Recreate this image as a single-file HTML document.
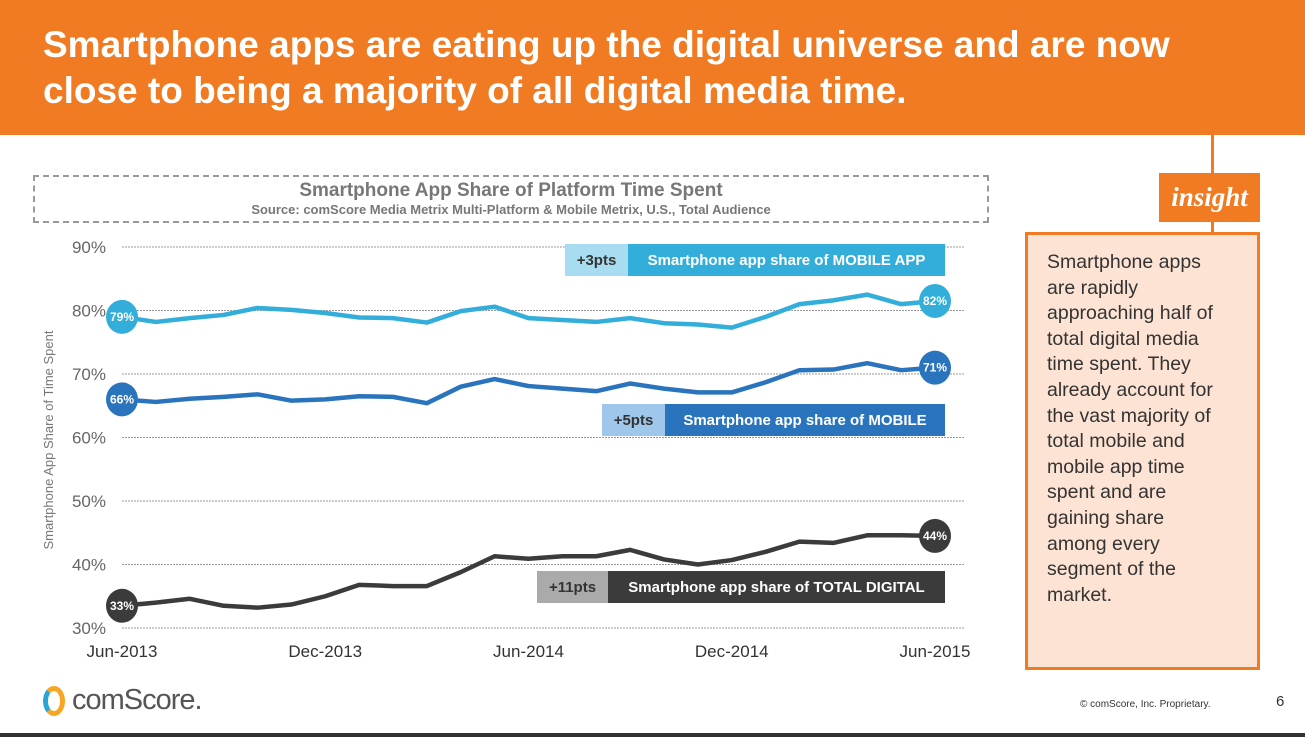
<!DOCTYPE html>
<html><head><meta charset="utf-8"><style>
body{margin:0;width:1305px;height:737px;position:relative;background:#fff;font-family:"Liberation Sans",Arial,sans-serif;overflow:hidden}
#hdr{position:absolute;left:0;top:0;width:1305px;height:135px;background:#F07B22}
#hdr h1{position:absolute;left:43px;top:22px;margin:0;color:#fff;font-size:37px;line-height:46px;font-weight:bold;white-space:nowrap}
#ins-box{position:absolute;left:1025px;top:232px;width:229px;height:432px;border:3px solid #F07B22;background:#FDE3D3}
#ins-text{position:absolute;left:19px;top:15px;font-size:19.5px;line-height:25.6px;color:#333}
</style></head><body>
<div id="hdr"><h1>Smartphone apps are eating up the digital universe and are now<br>close to being a majority of all digital media time.</h1></div>
<div style="position:absolute;left:1211px;top:135px;width:3px;height:98px;background:#F07B22"></div>
<div style="position:absolute;left:1159px;top:173px;width:101px;height:49px;background:#F07B22;color:#fff;font-style:italic;font-weight:bold;font-size:27px;text-align:center;line-height:49px;font-family:'Liberation Serif',serif">insight</div>
<div id="ins-box"><div id="ins-text">Smartphone apps<br>are rapidly<br>approaching half of<br>total digital media<br>time spent. They<br>already account for<br>the vast majority of<br>total mobile and<br>mobile app time<br>spent and are<br>gaining share<br>among every<br>segment of the<br>market.</div></div>
<div style="position:absolute;left:33px;top:175px;width:952px;height:44px;border:2px dashed #999">
<div style="text-align:center;font-weight:bold;color:#777;font-size:19px;margin-top:3px">Smartphone App Share of Platform Time Spent</div>
<div style="text-align:center;font-weight:bold;color:#777;font-size:13px">Source: comScore Media Metrix Multi-Platform &amp; Mobile Metrix, U.S., Total Audience</div></div>
<svg id="chart" width="1305" height="737" style="position:absolute;left:0;top:0"></svg>
<div style="position:absolute;left:43px;top:686px;width:22px;height:30px;border-radius:50%;border:5px solid #F6A623;border-left-color:#2AA6D5;box-sizing:border-box"></div>
<div style="position:absolute;left:72px;top:684px;font-size:29px;color:#555;letter-spacing:-1px;font-family:'Liberation Sans Narrow','Liberation Sans',sans-serif">comScore.</div>
<div style="position:absolute;left:1080px;top:699px;font-size:10px;color:#333">© comScore, Inc. Proprietary.</div>
<div style="position:absolute;left:1276px;top:693px;font-size:15px;color:#333">6</div>
<div style="position:absolute;left:0;top:733px;width:1305px;height:4px;background:#333"></div>
<script>
const months=["Jun-2013","","","","","","Dec-2013","","","","","","Jun-2014","","","","","","Dec-2014","","","","","","Jun-2015"];
const yTicks=[30,40,50,60,70,80,90];
const mobileApp=[79,78.2,78.8,79.3,80.4,80.1,79.6,78.9,78.8,78.1,79.9,80.6,78.8,78.5,78.2,78.8,78.0,77.8,77.3,79.0,81.0,81.6,82.5,81.0,81.5];
const mobile=[66,65.6,66.1,66.4,66.8,65.8,66.0,66.5,66.4,65.4,68.0,69.2,68.1,67.7,67.3,68.5,67.7,67.1,67.1,68.7,70.6,70.7,71.7,70.6,71];
const totalDigital=[33.5,34.0,34.6,33.5,33.2,33.7,35.0,36.8,36.6,36.6,38.8,41.3,40.9,41.3,41.3,42.3,40.8,40.0,40.7,42.0,43.6,43.4,44.6,44.6,44.5];
const startLabels=["79%","66%","33%"], endLabels=["82%","71%","44%"];
const NS="http://www.w3.org/2000/svg",svg=document.getElementById('chart');
const X=i=>122+i*(935-122)/(months.length-1);
const Y=v=>247+(90-v)*(628-247)/60;
function mk(t,a,p){const e=document.createElementNS(NS,t);for(const k in a)e.setAttribute(k,a[k]);(p||svg).appendChild(e);return e;}
yTicks.forEach(v=>{
 const l=mk('line',{x1:122,x2:965,y1:Y(v),y2:Y(v),stroke:'#999','stroke-dasharray':'2,1','stroke-width':1});
 
 
 const t=mk('text',{x:106,y:Y(v)+6,'text-anchor':'end','font-size':17,fill:'#666'});t.textContent=v+'%';
 
 
});
months.forEach((m,i)=>{if(!m)return;
 const t=mk('text',{x:X(i),y:657,'text-anchor':'middle','font-size':17,fill:'#333'});t.textContent=m;
 
 
});
const yt=mk('text',{x:0,y:0,transform:'translate(53,440) rotate(-90)','text-anchor':'middle','font-size':13,fill:'#777'});yt.textContent='Smartphone App Share of Time Spent';


const series=[[mobileApp,'#33AEDA','mobile-app'],[mobile,'#2A74BE','mobile'],[totalDigital,'#3B3B3B','total-digital']];
series.forEach(([d,c,n],k)=>{
 const p=mk('polyline',{points:d.map((v,i)=>X(i)+','+Y(v)).join(' '),fill:'none',stroke:c,'stroke-width':4.5,'stroke-linejoin':'round'});
 
 
 [[0,startLabels[k]],[d.length-1,endLabels[k]]].forEach(([i,lab])=>{
  const e=mk('ellipse',{cx:X(i),cy:Y(d[i]),rx:16,ry:17,fill:c});
  
  
  const t=mk('text',{x:X(i),y:Y(d[i])+4,'text-anchor':'middle','font-size':12,'font-weight':'bold',fill:'#fff'});t.textContent=lab;
  
  
 });
});
const legends=[[565,244,'+3pts','Smartphone app share of MOBILE APP','#A8DCF0','#33AEDA','#333',63],[602,404,'+5pts','Smartphone app share of MOBILE','#9EC7EB','#2A74BE','#333',63],[537,571,'+11pts','Smartphone app share of TOTAL DIGITAL','#AAAAAA','#3B3B3B','#333',71]];
legends.forEach(([x,y,a,b,c1,c2,tc,w])=>{
 const g=mk('g',{});
 
 
 mk('rect',{x:x,y:y,width:w,height:32,fill:c1},g);
 mk('rect',{x:x+w,y:y,width:945-x-w,height:32,fill:c2},g);
 const t1=mk('text',{x:x+w/2,y:y+21,'text-anchor':'middle','font-size':15,'font-weight':'bold',fill:tc},g);t1.textContent=a;
 const t2=mk('text',{x:(x+w+945)/2,y:y+21,'text-anchor':'middle','font-size':15,'font-weight':'bold',fill:'#fff'},g);t2.textContent=b;
});
</script>
</body></html>
